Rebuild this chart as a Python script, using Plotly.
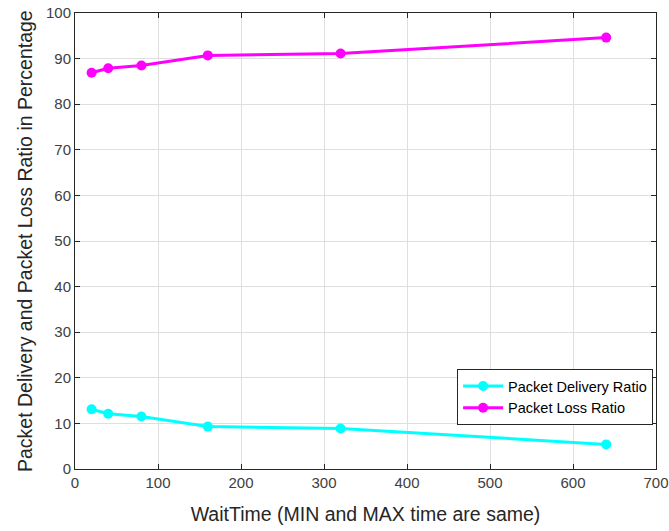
import plotly.graph_objects as go

wait_time = [20, 40, 80, 160, 320, 640]
delivery_ratio = [13.1, 12.1, 11.5, 9.3, 8.9, 5.4]
loss_ratio = [86.9, 87.9, 88.5, 90.7, 91.1, 94.6]

fig = go.Figure()
fig.add_trace(go.Scatter(x=wait_time, y=delivery_ratio, mode="lines+markers",
                         name="Packet Delivery Ratio",
                         line=dict(color="#00FFFF", width=3),
                         marker=dict(color="#00FFFF", size=10, symbol="circle")))
fig.add_trace(go.Scatter(x=wait_time, y=loss_ratio, mode="lines+markers",
                         name="Packet Loss Ratio",
                         line=dict(color="#FF00FF", width=3),
                         marker=dict(color="#FF00FF", size=10, symbol="circle")))

axis_common = dict(showline=True, linecolor="#262626", linewidth=1, mirror="ticks",
                   ticks="inside", ticklen=5, tickcolor="#262626", automargin=False,
                   ticklabeloverflow="allow",
                   showgrid=True, gridcolor="#DFDFDF", gridwidth=1, zeroline=False,
                   tickfont=dict(family="Liberation Sans, Arial", size=15, color="#404040"))

fig.update_layout(
    width=669, height=531,
    margin=dict(l=75, r=13, t=13, b=62),
    paper_bgcolor="white", plot_bgcolor="white",
    font=dict(family="Liberation Sans, Arial", color="#262626"),
    xaxis=dict(range=[0, 700], tickvals=[0, 100, 200, 300, 400, 500, 600, 700],
               title=dict(text="WaitTime (MIN and MAX time are same)",
                          font=dict(size=19.5, color="#262626"), standoff=17),
               **axis_common),
    yaxis=dict(range=[0, 100], tickvals=list(range(0, 101, 10)),
               **axis_common),
    legend=dict(x=0.995, y=0.0965, xanchor="right", yanchor="bottom",
                bgcolor="white", bordercolor="#262626", borderwidth=1,
                itemwidth=40,
                font=dict(size=14.5, color="#000000"), tracegroupgap=0),
    showlegend=True,
    annotations=[dict(text="Packet Delivery and Packet Loss Ratio in Percentage",
                      xref="paper", yref="paper", x=-0.086, y=0.5,
                      xanchor="center", yanchor="middle", textangle=-90,
                      showarrow=False, font=dict(size=19.5, color="#262626"))],
)

fig.write_html("out.html", config={"displayModeBar": False},
               post_script="document.body.style.margin='0';document.body.style.overflow='hidden';")
